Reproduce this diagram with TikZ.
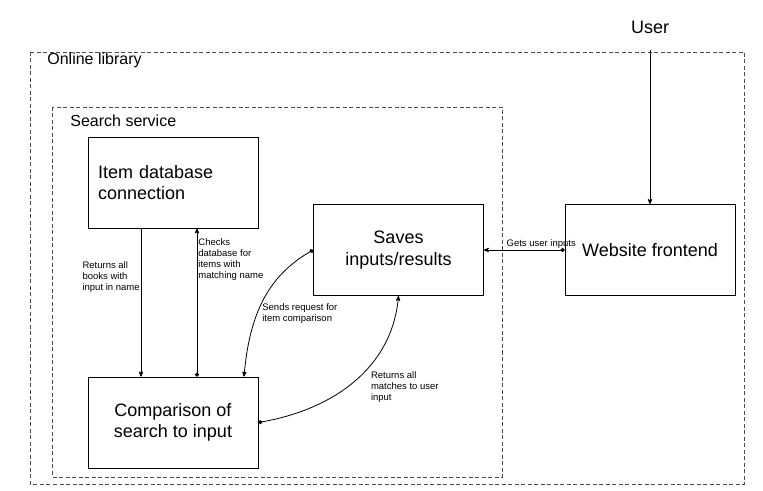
\documentclass[tikz,border=0pt]{standalone}
\usepackage{fontspec}
\setmainfont{Liberation Sans}
\usepackage{tikz}
\usetikzlibrary{arrows,arrows.meta}

\begin{document}
\begin{tikzpicture}[x=1pt,y=1pt,->,>=stealth',auto,node distance=240pt,line width=0.8pt,
    main node/.style={rectangle,draw,minimum width=170pt,minimum height=91pt,align=center,font=\fontsize{18}{21.5}\selectfont},
    dot arrow/.style={{Circle[length=4pt]}->},
    frame/.style={-,draw=black!70,dash pattern=on 4pt off 2.5pt,line width=0.7pt},
    frame label/.style={anchor=base west,inner sep=0pt,font=\fontsize{16}{19}\selectfont}]
    \useasboundingbox (0,0) rectangle (763,490);

    % frames
    \draw[frame] (30,438) rectangle (744,6);
    \draw[frame] (52,383) rectangle (502,13);
    \node[frame label] (library) at (47,425) {Online library};
    \node[frame label] (search) at (70,363) {Search service};

    \node[anchor=base,font=\fontsize{18}{21.5}\selectfont] (user) at (650,456) {User};
    \node[main node,text width=150pt,align=left,inner sep=10pt] (item) at (173,307.5) {Item database\\connection};
    \node[main node] (compare) [below of=item] {Comparison of\\search to input};
    \node[main node] (saves) at (398.5,240) {Saves\\inputs/results};
    \node[main node,node distance=251.5pt] (web) [right of=saves] {Website frontend};

    \path[every node/.style={font=\fontsize{9.5}{11}\selectfont,align=left,inner sep=1pt}]
    ([xshift=-32pt]item.south) edge node [pos=0.33,left] {Returns all\\books with\\input in name} ([xshift=-32pt]compare.north)
    ([xshift=24pt]compare.north) edge[dot arrow] node [pos=0.79,right] {Checks\\database for\\items with\\matching name} ([xshift=24pt]item.south)
    (saves.west) edge[dot arrow,out=210,in=85] node [pos=0.57,right,xshift=3pt,yshift=-2pt] {Sends request for\\item comparison} ([xshift=71pt]compare.north)
    (compare.east) edge[dot arrow,out=10,in=265] node [pos=0.55,below right,xshift=9pt,yshift=5pt] {Returns all\\matches to user\\input} (saves.south)
    (web.west) edge[dot arrow] node [pos=0.29,above] {Gets user inputs} (saves.east)
    (user) edge[shorten <=12pt] (web);
\end{tikzpicture}
\end{document}
